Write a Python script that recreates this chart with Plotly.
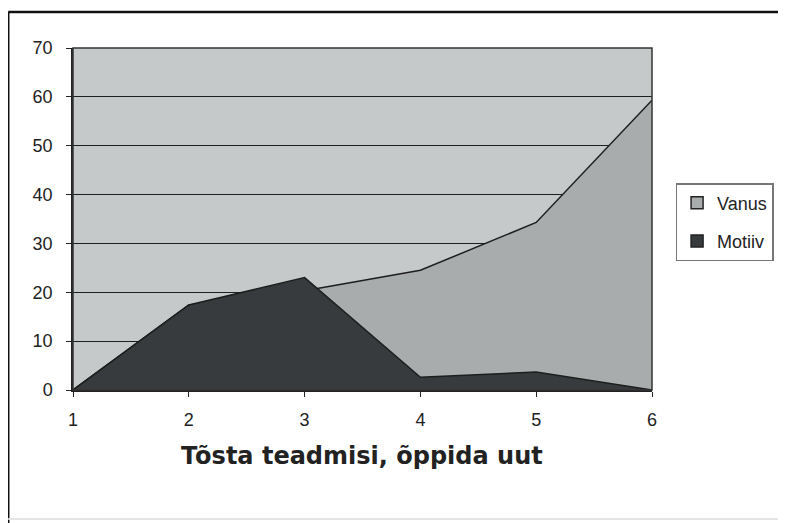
"""Area chart: Vanus vs Motiiv (Tõsta teadmisi, õppida uut)."""

import plotly.graph_objects as go

X_VALUES = [1, 2, 3, 4, 5, 6]
VANUS = [0, 17.4, 20.3, 24.5, 34.3, 59.3]
MOTIIV = [0, 17.4, 23.0, 2.6, 3.7, 0]
Y_TICKS = [0, 10, 20, 30, 40, 50, 60, 70]
TITLE = "Tõsta teadmisi, õppida uut"

COLOURS = {
    "plot_bg": "#c6c9c9",
    "vanus": "#a9acac",
    "motiiv": "#383b3d",
    "line": "#1e1e1e",
}

# The page body has an 8px margin, so the figure starts at (8, 8).
OFF = 8
W, H = 786 - OFF, 523 - OFF
PLOT_X0, PLOT_X1, PLOT_Y0, PLOT_Y1 = 73, 654, 48, 390  # page pixels
L, T = PLOT_X0 - OFF, PLOT_Y0 - OFF
R, B = W - L - (PLOT_X1 - PLOT_X0), H - T - (PLOT_Y1 - PLOT_Y0)
PW, PH = PLOT_X1 - PLOT_X0, PLOT_Y1 - PLOT_Y0


def px_to_paper(px, py):
    return (px - PLOT_X0) / PW, (PLOT_Y1 - py) / PH


fig = go.Figure()
fig.add_trace(go.Scatter(
    x=X_VALUES, y=VANUS, name="Vanus", mode="lines",
    fill="tozeroy", fillcolor=COLOURS["vanus"],
    line=dict(color=COLOURS["line"], width=1.5), showlegend=False,
))
fig.add_trace(go.Scatter(
    x=X_VALUES, y=MOTIIV, name="Motiiv", mode="lines",
    fill="tozeroy", fillcolor=COLOURS["motiiv"],
    line=dict(color=COLOURS["line"], width=1.5), showlegend=False,
))
# Legend-only entries with square swatches
for name, key in [("Vanus", "vanus"), ("Motiiv", "motiiv")]:
    fig.add_trace(go.Scatter(
        x=[None], y=[None], name=name, mode="markers", legendgroup=name,
        marker=dict(symbol="square", size=12, color=COLOURS[key],
                    line=dict(color="#222", width=1.5)),
    ))

# Outer chart border: left and top edges
lx0, ty0 = px_to_paper(8, 12)
rx1, by1 = px_to_paper(786, 523)
fig.add_shape(type="line", xref="paper", yref="paper",
              x0=lx0, y0=ty0, x1=lx0, y1=by1,
              line=dict(color="#111", width=2.5))
fig.add_shape(type="line", xref="paper", yref="paper",
              x0=lx0, y0=ty0, x1=rx1, y1=ty0,
              line=dict(color="#111", width=2.5))
_, bb = px_to_paper(0, 519)
fig.add_shape(type="line", xref="paper", yref="paper",
              x0=lx0, y0=bb, x1=rx1, y1=bb,
              line=dict(color="#e4e4e4", width=2))
# Plot frame
fig.add_shape(type="rect", xref="paper", yref="paper",
              x0=0, y0=0, x1=1, y1=1,
              line=dict(color="#333", width=1.5))

tx, ty = px_to_paper(363, 472)
fig.add_annotation(text=f"<b>{TITLE}</b>", xref="paper", yref="paper",
                   x=tx, y=ty, showarrow=False,
                   font=dict(size=24, color="#222",
                             family="DejaVu Sans, Arial"))

lgx, lgy = px_to_paper(776, 183)
fig.update_layout(
    width=W, height=H,
    margin=dict(l=L, r=R, t=T, b=B, pad=0),
    paper_bgcolor="white",
    plot_bgcolor=COLOURS["plot_bg"],
    font=dict(family="Liberation Sans, Arial", size=18, color="#222"),
    showlegend=True,
    legend=dict(x=lgx, y=lgy, xanchor="right", yanchor="top",
                bordercolor="#777", borderwidth=1.5, bgcolor="white",
                font=dict(size=18), traceorder="grouped",
                tracegroupgap=12, itemwidth=30),
    xaxis=dict(range=[1, 6], tickvals=X_VALUES, ticks="outside",
               ticklen=5, tickcolor="#222", showgrid=False,
               showline=True, linecolor="#222", linewidth=1.5,
               zeroline=False, ticklabelstandoff=8),
    yaxis=dict(range=[0, 70], tickvals=Y_TICKS, ticks="outside",
               ticklen=5, tickcolor="#222", showgrid=True,
               gridcolor="#1e1e1e", gridwidth=1,
               showline=True, linecolor="#222", linewidth=1.5,
               zeroline=False, ticklabelstandoff=10),
)

fig.write_html("out.html")
